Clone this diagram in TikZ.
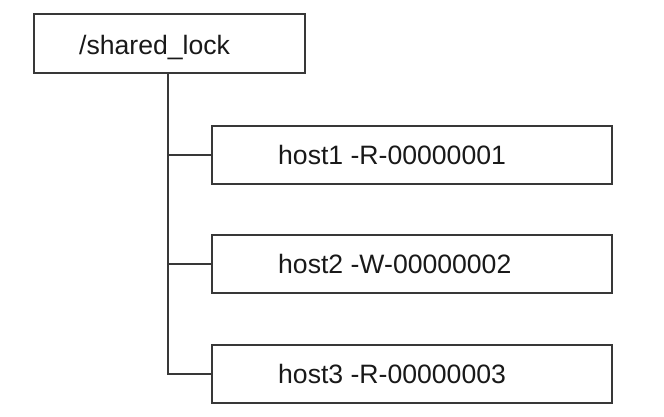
\documentclass[tikz,border=0pt]{standalone}
\usepackage{fontspec}
\setmainfont{Liberation Sans}
\begin{document}
\begin{tikzpicture}[x=1pt,y=-1pt,
  treeline/.style={draw=black!78,line width=1.8pt},
  box/.style={treeline,fill=white,inner sep=0pt,anchor=north west},
  label/.style={inner sep=0pt,anchor=base west,font=\fontsize{26.6}{31}\selectfont,text=black!90}]
  \useasboundingbox (0,0) rectangle (664,416);
  % root node
  \node[box,minimum width=271pt,minimum height=59pt] (root) at (33,13) {};
  \node[label] (rootlabel) at (79,54) {/shared\_lock};
  % child nodes
  \node[box,minimum width=400pt,minimum height=58pt] (h1) at (211,125) {};
  \node[box,minimum width=400pt,minimum height=58pt] (h2) at (211,234) {};
  \node[box,minimum width=400pt,minimum height=58pt] (h3) at (211,344) {};
  \node[label] (h1label) at (278,164) {host1 -R-00000001};
  \node[label] (h2label) at (278,273.5) {host2 -W-00000002};
  \node[label] (h3label) at (278,383) {host3 -R-00000003};
  % tree connectors
  \coordinate (trunk) at (168,0);
  \draw[treeline,line cap=rect] (root.south -| trunk) |- (h3.west);
  \draw[treeline] (h1.west -| trunk) -- (h1.west);
  \draw[treeline] (h2.west -| trunk) -- (h2.west);
\end{tikzpicture}
\end{document}
